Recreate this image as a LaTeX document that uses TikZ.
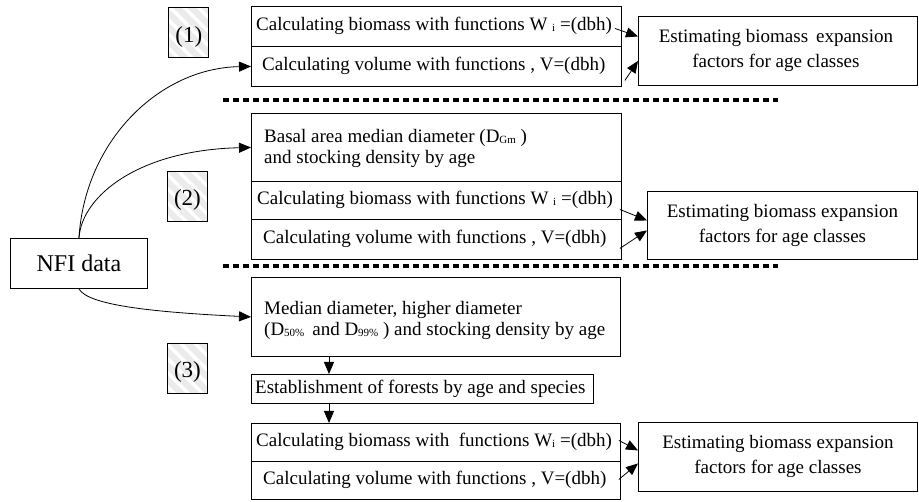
\documentclass[tikz,border=0pt]{standalone}
\usepackage{fontspec}
\setmainfont{Liberation Serif}
\usetikzlibrary{arrows.meta,patterns.meta}
\newcommand{\smsub}[1]{\raisebox{-1pt}{\fontsize{11}{11}\selectfont #1}}
\begin{document}
\begin{tikzpicture}[x=1pt,y=-1pt,
  box/.style={draw,line width=0.9pt,inner sep=0pt,anchor=north west},
  txt/.style={anchor=west,inner sep=0pt,font=\fontsize{19}{23}\selectfont},
  mtxt/.style={anchor=west,inner sep=0pt,align=left,font=\fontsize{19}{21}\selectfont},
  etxt/.style={inner sep=0pt,align=center,font=\fontsize{19}{25}\selectfont},
  lab/.style={draw,line width=0.9pt,minimum width=40pt,minimum height=50pt,inner sep=0pt,anchor=north west,
    preaction={fill=gray!16},pattern={Lines[angle=-45,distance=10pt,line width=3.5pt]},pattern color=white},
  labtxt/.style={inner sep=0pt,font=\fontsize{23}{27}\selectfont},
  arr/.style={-{Triangle[length=12pt,width=10pt]},line width=0.8pt},
  sep/.style={line width=4pt,dash pattern=on 6pt off 4pt}
]
\useasboundingbox (0,0) rectangle (919,502);

% NFI
\node[box,minimum width=137,minimum height=50,font=\fontsize{24}{28}\selectfont] (nfi) at (10,238) {NFI data};

% labels
\node[lab] (l1) at (167,6) {};
\node[labtxt] at ([yshift=-4pt]l1.center) {(1)};
\node[lab] (l2) at (167,171) {};
\node[labtxt] at ([yshift=-4pt]l2.center) {(2)};
\node[lab] (l3) at (167,343) {};
\node[labtxt] at ([yshift=-4pt]l3.center) {(3)};

% separators
\coordinate (s1a) at (223,100); \coordinate (s1b) at (778,100);
\coordinate (s2a) at (223,266); \coordinate (s2b) at (778,266);
\draw[sep] (s1a) -- (s1b);
\draw[sep] (s2a) -- (s2b);

% section 1
\node[box,minimum width=370,minimum height=40] (b1) at (251,6) {};
\node[box,minimum width=370,minimum height=40] (v1) at (251,46) {};
\node[txt] (tb1) at (256,26) {Calculating biomass with functions W \smsub{i} =(dbh)};
\node[txt] (tv1) at (262,66) {Calculating volume with functions , V=(dbh)};
\node[box,minimum width=279,minimum height=69] (e1) at (638,16) {};
\node[etxt] (te1) at ([xshift=-2pt]e1.center) {Estimating biomass\, expansion\\factors for age classes};
\draw[arr] ([shift={(-7,2)}]b1.east) -- ([shift={(0,-14.5)}]e1.west);
\draw[arr] ([shift={(3,14)}]v1.east) -- ([shift={(0,10)}]e1.west);

% section 2
\node[box,minimum width=370,minimum height=68] (bas) at (251,113) {};
\node[mtxt] (tbas) at (264,148) {Basal area median diameter (D\smsub{Gm} )\\and stocking density by age};
\node[box,minimum width=370,minimum height=38] (b2) at (251,181) {};
\node[box,minimum width=370,minimum height=40] (v2) at (251,219) {};
\node[txt] (tb2) at (257,200) {Calculating biomass with functions W \smsub{i} =(dbh)};
\node[txt] (tv2) at (263,239) {Calculating volume with functions , V=(dbh)};
\node[box,minimum width=270,minimum height=68] (e2) at (647,191) {};
\node[etxt] (te2) at (e2.center) {Estimating biomass expansion\\factors for age classes};
\draw[arr] ([shift={(-2,9)}]b2.east) -- ([shift={(0,-5)}]e2.west);
\draw[arr] ([shift={(-2,9)}]v2.east) -- ([shift={(0,5)}]e2.west);

% section 3
\node[box,minimum width=369,minimum height=79] (med) at (251,277) {};
\node[mtxt] (tmed) at (264,320) {Median diameter, higher diameter\\(D\smsub{50\%}\, and D\smsub{99\%} ) and stocking density by age};
\node[box,minimum width=342,minimum height=29] (est) at (251,374) {};
\node[txt] (test) at (255,388.5) {Establishment of forests by age and species};
\node[box,minimum width=369,minimum height=38] (b3) at (251,423) {};
\node[box,minimum width=369,minimum height=38] (v3) at (251,461) {};
\node[txt] (tb3) at (256,442) {Calculating biomass with \ functions W\smsub{i} =(dbh)};
\node[txt] (tv3) at (263,480) {Calculating volume with functions , V=(dbh)};
\node[box,minimum width=279,minimum height=69] (e3) at (638,422) {};
\node[etxt] (te3) at (e3.center) {Estimating biomass expansion\\factors for age classes};
\draw[arr] ([shift={(-2,-2)}]b3.east) -- ([shift={(0,-6.5)}]e3.west);
\draw[arr] ([shift={(-2,-1)}]v3.east) -- ([shift={(0,6.5)}]e3.west);

\coordinate (cx) at (329,0);
\draw[arr] (med.south -| cx) -- (est.north -| cx);
\draw[arr] (est.south -| cx) -- (b3.north -| cx);

% curves from NFI
\draw[arr] (nfi.north) .. controls (85,140) and (160,68) .. (v1.west);
\draw[arr] (nfi.north) .. controls (82,195) and (140,150) .. (bas.west);
\draw[arr] (nfi.south) .. controls (88,305) and (150,312) .. (med.west);
\end{tikzpicture}
\end{document}
